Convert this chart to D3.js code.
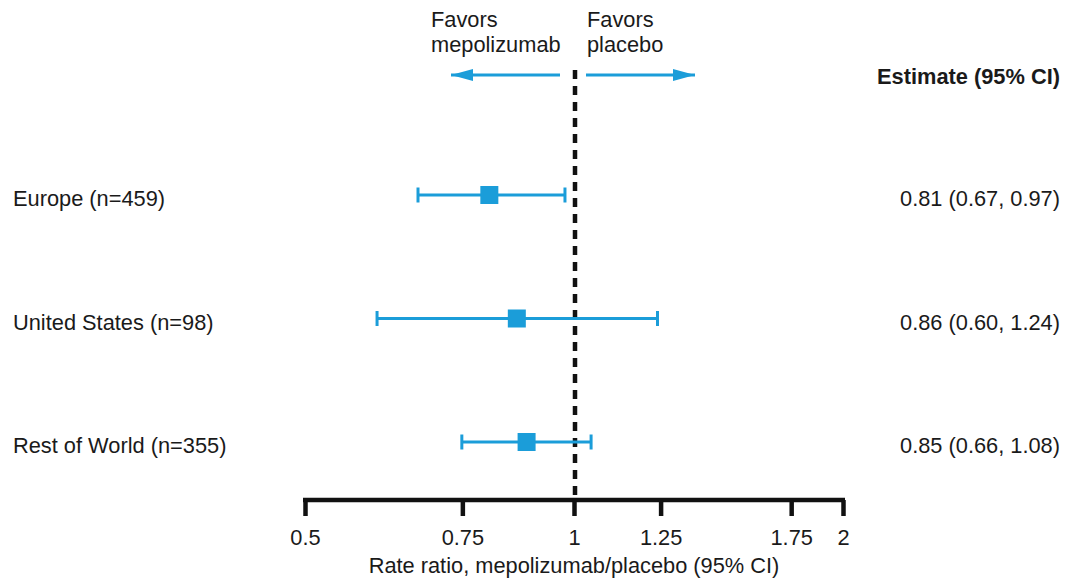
<!DOCTYPE html>
<html>
<head>
<meta charset="utf-8">
<script src="https://cdn.jsdelivr.net/npm/d3@7"></script>
<style>
  body { margin: 0; background: #fff; }
  svg text { font-family: "Liberation Sans", Arial, sans-serif; fill: #1a1a1a; }
</style>
</head>
<body>
<div id="vis"></div>
<script>
// data
var regions = ["Europe (n=459)", "United States (n=98)", "Rest of World (n=355)"];
var estimates = [0.804, 0.863, 0.885];
var lowerCI = [0.669, 0.602, 0.749];
var upperCI = [0.977, 1.24, 1.045];
var ciLabels = ["0.81 (0.67, 0.97)", "0.86 (0.60, 1.24)", "0.85 (0.66, 1.08)"];
var tickValues = [0.5, 0.75, 1, 1.25, 1.75, 2];
var tickLabels = ["0.5", "0.75", "1", "1.25", "1.75", "2"];

var W = 1066, H = 585;
var blue = "#1b9dd9";
var fontSize = "21.8px";

var svg = d3.select("#vis").append("svg")
  .attr("width", W)
  .attr("height", H);

var x = d3.scaleLog().domain([0.5, 2]).range([305, 843]);
var y = d3.scalePoint().domain(regions).range([195, 442]);

var axisY = 500;

// dashed reference line at 1
svg.append("line")
  .attr("x1", x(1) + 1).attr("x2", x(1) + 1)
  .attr("y1", 70).attr("y2", axisY)
  .attr("stroke", "#111")
  .attr("stroke-width", 4.5)
  .attr("stroke-dasharray", "9,7");

// bottom axis
var axis = d3.axisBottom(x)
  .tickValues(tickValues)
  .tickFormat(function(d, i) { return tickLabels[i]; })
  .tickSize(16)
  .tickSizeOuter(0)
  .tickPadding(13);

var ax = svg.append("g")
  .attr("transform", "translate(0," + axisY + ")")
  .call(axis);
ax.select(".domain")
  .attr("stroke", "#111")
  .attr("stroke-width", 4.5)
  .attr("d", "M" + (x(0.5) - 2) + ",0H" + (x(2) + 2));
ax.selectAll(".tick line")
  .attr("stroke", "#111")
  .attr("stroke-width", 4.5);
ax.selectAll(".tick text")
  .attr("font-size", fontSize)
  .attr("font-family", "'Liberation Sans', Arial, sans-serif")
  .attr("fill", "#1a1a1a")
  .attr("dy", "0.72em");

svg.append("text")
  .attr("x", x(1))
  .attr("y", 573)
  .attr("text-anchor", "middle")
  .attr("font-size", fontSize)
  .text("Rate ratio, mepolizumab/placebo (95% CI)");

// favors labels + arrows
var defs = svg.append("defs");
defs.append("marker")
  .attr("id", "arrowhead")
  .attr("viewBox", "0 0 22 12")
  .attr("refX", 22).attr("refY", 6)
  .attr("markerWidth", 22).attr("markerHeight", 12)
  .attr("markerUnits", "userSpaceOnUse")
  .attr("orient", "auto")
  .append("path")
  .attr("d", "M0,0L22,6L0,12z")
  .attr("fill", blue);

svg.append("line")
  .attr("x1", 560).attr("x2", 451)
  .attr("y1", 75).attr("y2", 75)
  .attr("stroke", blue).attr("stroke-width", 3)
  .attr("marker-end", "url(#arrowhead)");
svg.append("line")
  .attr("x1", 586).attr("x2", 695)
  .attr("y1", 75).attr("y2", 75)
  .attr("stroke", blue).attr("stroke-width", 3)
  .attr("marker-end", "url(#arrowhead)");

var favL = svg.append("text").attr("x", 431).attr("y", 27).attr("font-size", fontSize);
favL.append("tspan").attr("x", 431).text("Favors");
favL.append("tspan").attr("x", 431).attr("dy", 25).text("mepolizumab");
var favR = svg.append("text").attr("x", 587).attr("y", 27).attr("font-size", fontSize);
favR.append("tspan").attr("x", 587).text("Favors");
favR.append("tspan").attr("x", 587).attr("dy", 25).text("placebo");

svg.append("text")
  .attr("x", 1060)
  .attr("y", 84)
  .attr("text-anchor", "end")
  .attr("font-size", fontSize)
  .attr("font-weight", "bold")
  .text("Estimate (95% CI)");

// rows
var rows = svg.selectAll(".row")
  .data(regions)
  .enter().append("g")
  .attr("class", "row")
  .attr("transform", function(d) { return "translate(0," + y(d) + ")"; });

rows.append("text")
  .attr("x", 13).attr("y", 11)
  .attr("font-size", fontSize)
  .text(function(d) { return d; });

rows.append("text")
  .attr("x", 1060).attr("y", 11)
  .attr("text-anchor", "end")
  .attr("font-size", fontSize)
  .text(function(d, i) { return ciLabels[i]; });

rows.append("line")
  .attr("x1", function(d, i) { return x(lowerCI[i]); })
  .attr("x2", function(d, i) { return x(upperCI[i]); })
  .attr("y1", 0).attr("y2", 0)
  .attr("stroke", blue).attr("stroke-width", 3);

rows.selectAll(".cap")
  .data(function(d, i) { return [lowerCI[i], upperCI[i]]; })
  .enter().append("line")
  .attr("class", "cap")
  .attr("x1", function(v) { return x(v); })
  .attr("x2", function(v) { return x(v); })
  .attr("y1", -7.5).attr("y2", 7.5)
  .attr("stroke", blue).attr("stroke-width", 3);

var sq = 18;
rows.append("rect")
  .attr("x", function(d, i) { return x(estimates[i]) - sq / 2; })
  .attr("y", -sq / 2)
  .attr("width", sq).attr("height", sq)
  .attr("fill", blue);
</script>
</body>
</html>
